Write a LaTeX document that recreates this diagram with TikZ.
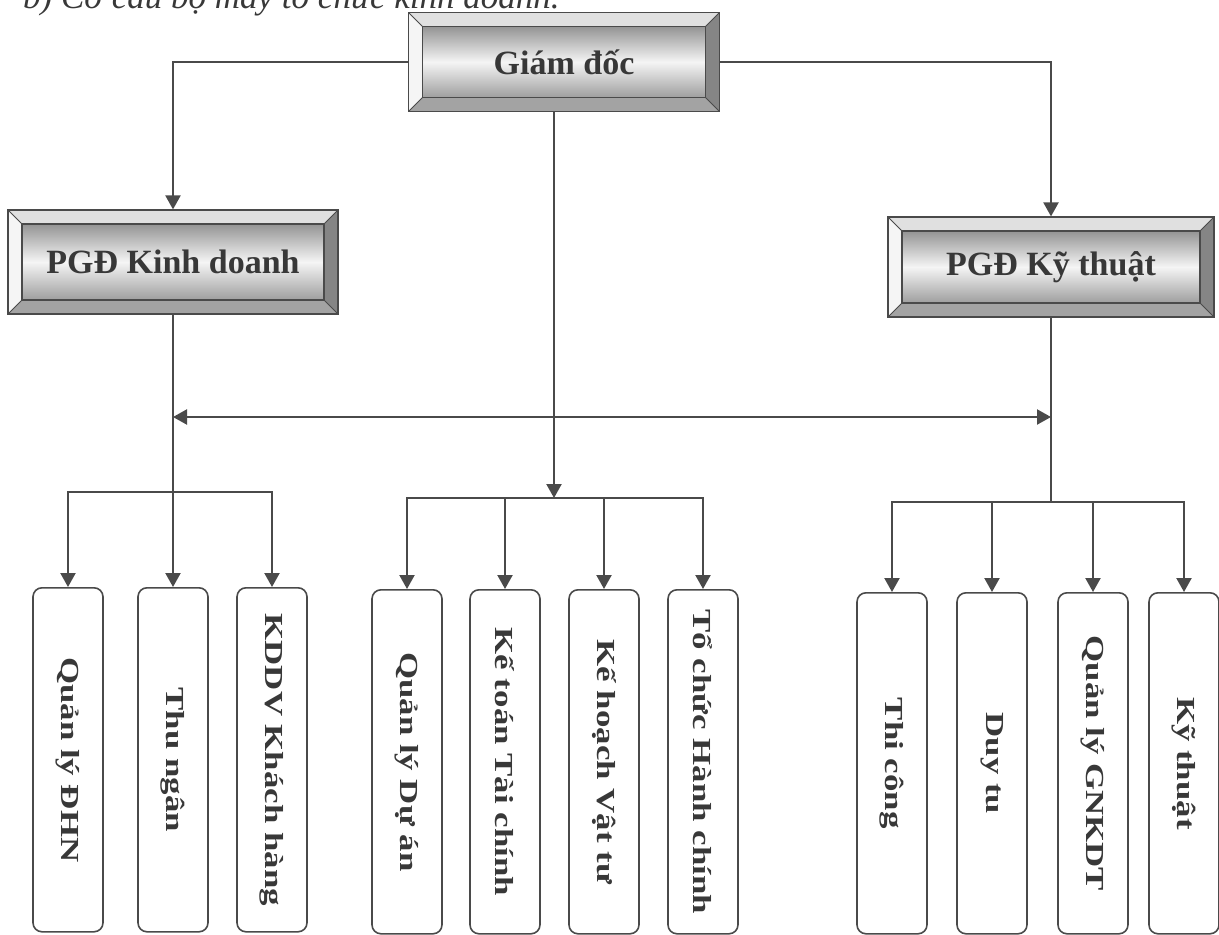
\documentclass[tikz,border=0pt]{standalone}
\usepackage{fontspec}
\setmainfont{Liberation Serif}
\usetikzlibrary{arrows.meta,positioning,calc}
\definecolor{edgegray}{HTML}{4A4A4A}
\definecolor{txtgray}{HTML}{383838}
\newcommand{\vlabel}[1]{\rotatebox{-90}{\scalebox{1.34}[1]{#1}}}

\begin{document}
\begin{tikzpicture}[x=1pt,y=-1pt,
  >={Triangle[width=15pt,length=14pt]},
  conn/.style={draw=edgegray, line width=2.2pt},
  bevelbox/.style={draw=edgegray, line width=1.2pt, inner sep=0pt, text=txtgray,
    font=\fontsize{34}{40}\selectfont\bfseries,
    path picture={
      \path (path picture bounding box.south west) coordinate (bsw)
            (path picture bounding box.north east) coordinate (bne)
            (path picture bounding box.north west) coordinate (bnw)
            (path picture bounding box.south east) coordinate (bse);
      \fill[black!12] (bnw) -- (bne) -- ([shift={(-14pt,-14pt)}]bne) -- ([shift={(14pt,-14pt)}]bnw) -- cycle;
      \fill[black!4] (bnw) -- (bsw) -- ([shift={(14pt,14pt)}]bsw) -- ([shift={(14pt,-14pt)}]bnw) -- cycle;
      \fill[black!48] (bne) -- (bse) -- ([shift={(-14pt,14pt)}]bse) -- ([shift={(-14pt,-14pt)}]bne) -- cycle;
      \fill[black!36] (bsw) -- (bse) -- ([shift={(-14pt,14pt)}]bse) -- ([shift={(14pt,14pt)}]bsw) -- cycle;
      \shade[top color=black!42, bottom color=black!38, middle color=black!4]
        ([shift={(14pt,14pt)}]bsw) rectangle ([shift={(-14pt,-14pt)}]bne);
      \draw[edgegray, line width=1.4pt] ([shift={(14pt,14pt)}]bsw) rectangle ([shift={(-14pt,-14pt)}]bne);
      \draw[edgegray, line width=0.8pt] (bnw) -- ([shift={(14pt,-14pt)}]bnw)
        (bne) -- ([shift={(-14pt,-14pt)}]bne)
        (bsw) -- ([shift={(14pt,14pt)}]bsw)
        (bse) -- ([shift={(-14pt,14pt)}]bse);
    }},
  unit/.style={draw=edgegray, line width=1.6pt, rounded corners=9pt, minimum width=70pt,
    minimum height=344pt, inner sep=0pt, anchor=north, text=txtgray,
    font=\fontsize{26}{30}\selectfont\bfseries}]

\useasboundingbox (0,0) rectangle (1219,935);

% caption (cut at the top)
\node[anchor=base west, inner sep=0pt, text=txtgray, font=\fontsize{35}{40}\selectfont\itshape] (caption) at (23,8) {b) Cơ cấu bộ máy tổ chức kinh doanh.};

% directors
\node[bevelbox, minimum width=311pt, minimum height=99pt] (gd) at (564,62) {Giám đốc};
\node[bevelbox, minimum width=330pt, minimum height=104pt] (kd) at (173,262) {PGĐ Kinh doanh};
\node[bevelbox, minimum width=326pt, minimum height=100pt] (kt) at (1051,267) {PGĐ Kỹ thuật};

% departments
\node[unit] (qldhn) at (68,587) {\vlabel{Quản lý ĐHN}};
\node[unit] (thungan) at (173,587) {\vlabel{Thu ngân}};
\node[unit] (kddv) at (272,587) {\vlabel{KDDV Khách hàng}};
\node[unit] (qlda) at (407,589) {\vlabel{Quản lý Dự án}};
\node[unit] (ketoan) at (505,589) {\vlabel{Kế toán Tài chính}};
\node[unit] (kehoach) at (604,589) {\vlabel{Kế hoạch Vật tư}};
\node[unit] (tochuc) at (703,589) {\vlabel{Tổ chức Hành chính}};
\node[unit, minimum height=341pt] (thicong) at (892,592) {\vlabel{Thi công}};
\node[unit, minimum height=341pt] (duytu) at (992,592) {\vlabel{Duy tu}};
\node[unit, minimum height=341pt] (qlgn) at (1093,592) {\vlabel{Quản lý GNKDT}};
\node[unit, minimum height=341pt] (kythuat) at (1184,592) {\vlabel{Kỹ thuật}};

% connectors
\draw[conn,->] (gd.west) -| (kd.north);
\draw[conn,->] (gd.east) -| (kt.north);
\draw[conn,<->] (kd.south |- 0,417) -- (kt.south |- 0,417);

\coordinate (lbar) at (kd.south |- 0,492);
\draw[conn,->] (kd.south) -- (thungan.north);
\draw[conn,<->] (qldhn.north) -- (qldhn.north |- lbar) -- (kddv.north |- lbar) -- (kddv.north);

\coordinate (mbar) at (554,498);
\draw[conn,->] (gd.south -| mbar) -- (mbar);
\draw[conn,<->] (qlda.north) -- (qlda.north |- mbar) -- (tochuc.north |- mbar) -- (tochuc.north);
\draw[conn,->] (ketoan.north |- mbar) -- (ketoan.north);
\draw[conn,->] (kehoach.north |- mbar) -- (kehoach.north);

\coordinate (rbar) at (kt.south |- 0,502);
\draw[conn] (kt.south) -- (rbar);
\draw[conn,<->] (thicong.north) -- (thicong.north |- rbar) -- (kythuat.north |- rbar) -- (kythuat.north);
\draw[conn,->] (duytu.north |- rbar) -- (duytu.north);
\draw[conn,->] (qlgn.north |- rbar) -- (qlgn.north);
\end{tikzpicture}
\end{document}
